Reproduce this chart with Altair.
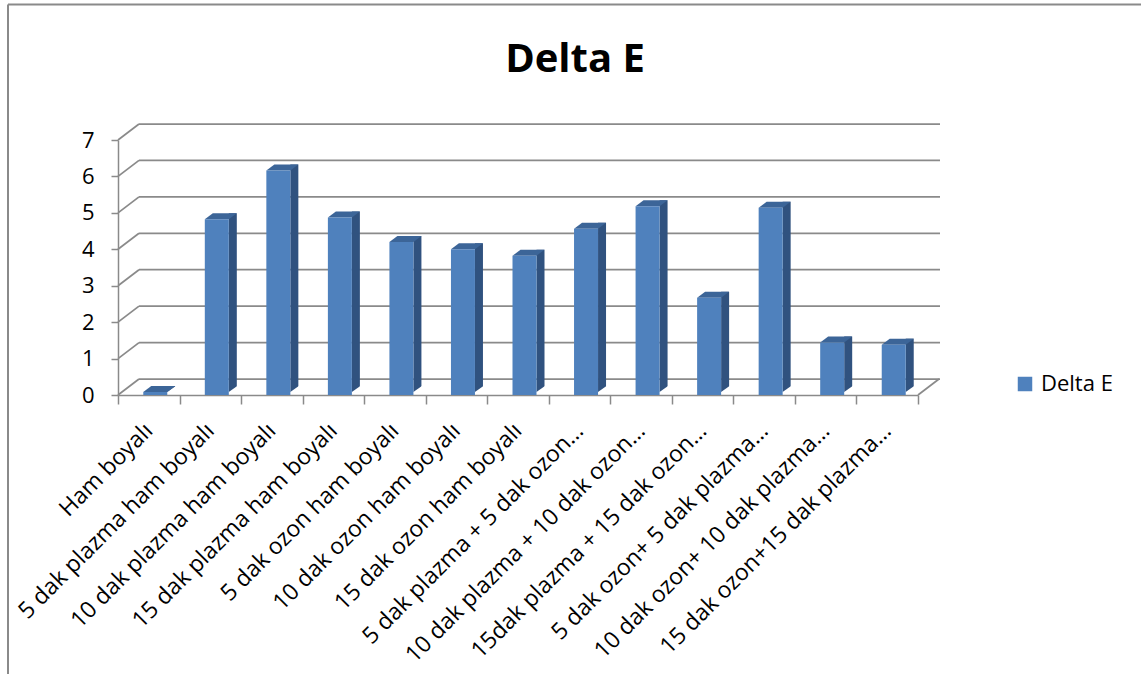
import altair as alt
import pandas as pd

title_text = "Delta E"
categories = [
    "Ham boyalı",
    "5 dak plazma ham boyalı",
    "10 dak plazma ham boyalı",
    "15 dak plazma ham boyalı",
    "5 dak ozon ham boyalı",
    "10 dak ozon ham boyalı",
    "15 dak ozon ham boyalı",
    "5 dak plazma + 5 dak ozon…",
    "10 dak plazma + 10 dak ozon…",
    "15dak plazma + 15 dak ozon…",
    "5 dak ozon+ 5 dak plazma…",
    "10 dak ozon+ 10 dak plazma…",
    "15 dak ozon+15 dak plazma…",
]
values = [0, 4.74, 6.08, 4.79, 4.12, 3.92, 3.74, 4.48, 5.10, 2.59, 5.06, 1.36, 1.30]
y_ticks = [0, 1, 2, 3, 4, 5, 6, 7]
series_name = "Delta E"

FONT = "Open Sans"
GRID = "#8a8a8a"
FRONT = "#4F81BD"
SIDE = "#30527F"
TOP = "#3C6598"

W, H = 800, 255

df = pd.DataFrame({"cat": categories, "value": values, "series": series_name})
grid_df = pd.DataFrame({"v": y_ticks})
one = pd.DataFrame({"k": [0]})
title_df = pd.DataFrame({"t": [title_text]})

yscale = alt.Scale(domain=[0, 7], nice=False, zero=True)
y_axis = alt.Axis(
    values=y_ticks, grid=False, title=None, domainColor=GRID, domainWidth=1.5,
    tickColor=GRID, tickWidth=1.5, tickSize=7, labelFont=FONT, labelFontSize=22,
    labelColor="black", labelPadding=17,
)
xscale = alt.Scale(domain=categories, paddingInner=0, paddingOuter=0)
x_axis = alt.Axis(
    title=None, labelAngle=-45, labelFont=FONT, labelFontSize=23, labelColor="black",
    domainColor=GRID, domainWidth=1.5, tickColor=GRID, tickWidth=1.5, tickSize=9,
    tickBand="extent", labelOffset=-8, labelPadding=15, labelLimit=400,
)

X = alt.X("cat:N", scale=xscale, axis=x_axis, sort=categories)
Y = alt.Y("value:Q", scale=yscale, axis=y_axis)

# back wall gridlines
back_grid = alt.Chart(grid_df).mark_rule(color=GRID, strokeWidth=1.75, yOffset=-16).encode(
    y=alt.Y("v:Q", scale=yscale, axis=y_axis), x=alt.value(21), x2=alt.value(822)
)
# depth diagonals at each tick (side wall)
diag = alt.Chart(grid_df).mark_rule(color=GRID, strokeWidth=1.75, y2Offset=-16).encode(
    y=alt.Y("v:Q", scale=yscale, axis=y_axis), y2=alt.Y2("v:Q"),
    x=alt.value(0), x2=alt.value(21)
)
floor_right = alt.Chart(one).mark_rule(color=GRID, strokeWidth=1.75).encode(
    x=alt.value(W), x2=alt.value(W + 21), y=alt.value(H), y2=alt.value(H - 16)
)

# bars: side face, hidden bottom triangle, top face, front face
side = alt.Chart(df).mark_bar(width=8, xOffset=22.5, yOffset=-9, y2Offset=-3, color=SIDE).encode(
    x=X, y=Y, y2=alt.datum(0)
)
tri = alt.Chart(df).mark_point(
    shape="M -0.55 0.42 L 0.6 0.42 L 0.6 -0.42 Z", size=256, filled=True,
    color="white", opacity=1, strokeWidth=0, xOffset=22.5, yOffset=-6,
).encode(x=X, y=alt.Y("zero:Q", scale=yscale, axis=y_axis)).transform_calculate(zero="0")
top = alt.Chart(df).mark_point(
    shape="M -1 0.1875 L 0.5 0.1875 L 1 -0.1875 L -0.5 -0.1875 Z", size=1024, filled=True,
    color=TOP, opacity=1, strokeWidth=0, xOffset=10.5, yOffset=-6,
).encode(x=X, y=Y)
front = alt.Chart(df).mark_bar(width=24, xOffset=6.5, yOffset=-3).encode(
    x=X, y=Y, y2=alt.datum(0),
    color=alt.Color(
        "series:N", scale=alt.Scale(domain=[series_name], range=[FRONT]),
        legend=alt.Legend(
            title=None, orient="none", legendX=896, legendY=233, symbolType="square",
            symbolSize=210, symbolStrokeWidth=0, labelFont=FONT, labelFontSize=22,
            labelColor="black", labelOffset=5,
        ),
    ),
)

title = alt.Chart(title_df).mark_text(
    font=FONT, fontSize=40, fontWeight="bold", color="black", align="center",
    baseline="alphabetic",
).encode(text="t:N", x=alt.value(457), y=alt.value(-68))

border_top = alt.Chart(one).mark_rule(color=GRID, strokeWidth=2).encode(
    x=alt.value(-110), x2=alt.value(1141 - 118), y=alt.value(-135.5)
)
border_left = alt.Chart(one).mark_rule(color=GRID, strokeWidth=2).encode(
    x=alt.value(-110), y=alt.value(-135.5), y2=alt.value(674 - 140)
)

chart = alt.layer(
    border_top, border_left, title, back_grid, diag, floor_right, side, tri, top, front
).properties(
    width=W, height=H,
    autosize=alt.AutoSizeParams(type="none"),
    padding={"left": 118, "top": 140, "right": 223, "bottom": 279},
).configure(background="white").configure_view(stroke=None)

chart.save("out.html", embed_options={"renderer": "svg", "actions": False})
